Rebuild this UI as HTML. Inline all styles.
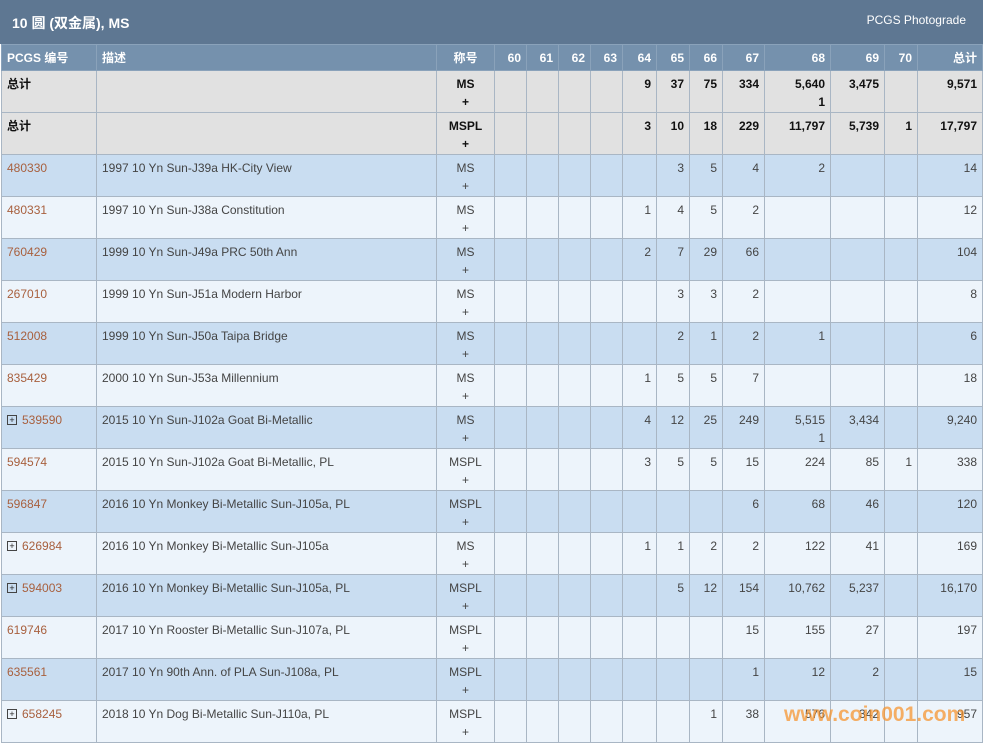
<!DOCTYPE html>
<html><head><meta charset="utf-8"><style>
body{margin:0;width:983px;height:744px;background:#fff;font-family:"Liberation Sans","Noto Sans CJK SC",sans-serif;overflow:hidden;position:relative}
.top{position:absolute;left:0;top:0;width:983px;height:44px;background:#5e7792;color:#fff}
.top .t{position:absolute;left:12px;top:13px;font-size:14px;font-weight:bold}
.top .r{position:absolute;right:17px;top:13px;font-size:12px}
table{position:absolute;left:1px;top:44px;border-collapse:collapse;table-layout:fixed;width:981px;font-size:12px}
td,th{border:1px solid #a9b6c4;padding:0 5px;vertical-align:top;overflow:hidden;white-space:nowrap;box-sizing:border-box}
th{background:#7591ad;color:#fff;height:26px;font-weight:bold;text-align:right;vertical-align:middle;border-color:#8aa2ba}
th.l{text-align:left}
tr.h td{height:42px}
td{padding-top:4px;line-height:18px;text-align:right;color:#444}
td.l{text-align:left}td.c{text-align:center}
tr.g td{background:#e1e1e1;color:#111;font-weight:bold}
tr.b td{background:#c9ddf1}
tr.w td{background:#edf4fb}
a{color:#a8603e;text-decoration:none}
.p{display:inline-block;width:8px;height:8px;border:1px solid #444;font-size:9px;line-height:8px;text-align:center;margin-right:5px;color:#222;vertical-align:1px}
.wm{position:absolute;left:784px;top:703px;font-size:21px;font-weight:bold;color:rgba(245,150,50,0.75);letter-spacing:0}
</style></head><body>
<div class="top"><span class="t">10 圆 (双金属), MS</span><span class="r">PCGS Photograde</span></div>
<table>
<colgroup><col style="width:95px"><col style="width:340px"><col style="width:58px"><col style="width:32px"><col style="width:32px"><col style="width:32px"><col style="width:32px"><col style="width:34px"><col style="width:33px"><col style="width:33px"><col style="width:42px"><col style="width:66px"><col style="width:54px"><col style="width:33px"><col style="width:65px"></colgroup>
<tr><th class="l">PCGS 编号</th><th class="l">描述</th><th style="text-align:center">称号</th><th>60</th><th>61</th><th>62</th><th>63</th><th>64</th><th>65</th><th>66</th><th>67</th><th>68</th><th>69</th><th>70</th><th>总计</th></tr>
<tr class="h g"><td class="l">总计</td><td></td><td class="c">MS<br>+</td><td></td><td></td><td></td><td></td><td>9</td><td>37</td><td>75</td><td>334</td><td>5,640<br>1</td><td>3,475</td><td></td><td>9,571</td></tr>
<tr class="h g"><td class="l">总计</td><td></td><td class="c">MSPL<br>+</td><td></td><td></td><td></td><td></td><td>3</td><td>10</td><td>18</td><td>229</td><td>11,797</td><td>5,739</td><td>1</td><td>17,797</td></tr>
<tr class="h b"><td class="l"><a>480330</a></td><td class="l">1997 10 Yn Sun-J39a HK-City View</td><td class="c">MS<br>+</td><td></td><td></td><td></td><td></td><td></td><td>3</td><td>5</td><td>4</td><td>2</td><td></td><td></td><td>14</td></tr>
<tr class="h w"><td class="l"><a>480331</a></td><td class="l">1997 10 Yn Sun-J38a Constitution</td><td class="c">MS<br>+</td><td></td><td></td><td></td><td></td><td>1</td><td>4</td><td>5</td><td>2</td><td></td><td></td><td></td><td>12</td></tr>
<tr class="h b"><td class="l"><a>760429</a></td><td class="l">1999 10 Yn Sun-J49a PRC 50th Ann</td><td class="c">MS<br>+</td><td></td><td></td><td></td><td></td><td>2</td><td>7</td><td>29</td><td>66</td><td></td><td></td><td></td><td>104</td></tr>
<tr class="h w"><td class="l"><a>267010</a></td><td class="l">1999 10 Yn Sun-J51a Modern Harbor</td><td class="c">MS<br>+</td><td></td><td></td><td></td><td></td><td></td><td>3</td><td>3</td><td>2</td><td></td><td></td><td></td><td>8</td></tr>
<tr class="h b"><td class="l"><a>512008</a></td><td class="l">1999 10 Yn Sun-J50a Taipa Bridge</td><td class="c">MS<br>+</td><td></td><td></td><td></td><td></td><td></td><td>2</td><td>1</td><td>2</td><td>1</td><td></td><td></td><td>6</td></tr>
<tr class="h w"><td class="l"><a>835429</a></td><td class="l">2000 10 Yn Sun-J53a Millennium</td><td class="c">MS<br>+</td><td></td><td></td><td></td><td></td><td>1</td><td>5</td><td>5</td><td>7</td><td></td><td></td><td></td><td>18</td></tr>
<tr class="h b"><td class="l"><span class="p">+</span><a>539590</a></td><td class="l">2015 10 Yn Sun-J102a Goat Bi-Metallic</td><td class="c">MS<br>+</td><td></td><td></td><td></td><td></td><td>4</td><td>12</td><td>25</td><td>249</td><td>5,515<br>1</td><td>3,434</td><td></td><td>9,240</td></tr>
<tr class="h w"><td class="l"><a>594574</a></td><td class="l">2015 10 Yn Sun-J102a Goat Bi-Metallic, PL</td><td class="c">MSPL<br>+</td><td></td><td></td><td></td><td></td><td>3</td><td>5</td><td>5</td><td>15</td><td>224</td><td>85</td><td>1</td><td>338</td></tr>
<tr class="h b"><td class="l"><a>596847</a></td><td class="l">2016 10 Yn Monkey Bi-Metallic Sun-J105a, PL</td><td class="c">MSPL<br>+</td><td></td><td></td><td></td><td></td><td></td><td></td><td></td><td>6</td><td>68</td><td>46</td><td></td><td>120</td></tr>
<tr class="h w"><td class="l"><span class="p">+</span><a>626984</a></td><td class="l">2016 10 Yn Monkey Bi-Metallic Sun-J105a</td><td class="c">MS<br>+</td><td></td><td></td><td></td><td></td><td>1</td><td>1</td><td>2</td><td>2</td><td>122</td><td>41</td><td></td><td>169</td></tr>
<tr class="h b"><td class="l"><span class="p">+</span><a>594003</a></td><td class="l">2016 10 Yn Monkey Bi-Metallic Sun-J105a, PL</td><td class="c">MSPL<br>+</td><td></td><td></td><td></td><td></td><td></td><td>5</td><td>12</td><td>154</td><td>10,762</td><td>5,237</td><td></td><td>16,170</td></tr>
<tr class="h w"><td class="l"><a>619746</a></td><td class="l">2017 10 Yn Rooster Bi-Metallic Sun-J107a, PL</td><td class="c">MSPL<br>+</td><td></td><td></td><td></td><td></td><td></td><td></td><td></td><td>15</td><td>155</td><td>27</td><td></td><td>197</td></tr>
<tr class="h b"><td class="l"><a>635561</a></td><td class="l">2017 10 Yn 90th Ann. of PLA Sun-J108a, PL</td><td class="c">MSPL<br>+</td><td></td><td></td><td></td><td></td><td></td><td></td><td></td><td>1</td><td>12</td><td>2</td><td></td><td>15</td></tr>
<tr class="h w"><td class="l"><span class="p">+</span><a>658245</a></td><td class="l">2018 10 Yn Dog Bi-Metallic Sun-J110a, PL</td><td class="c">MSPL<br>+</td><td></td><td></td><td></td><td></td><td></td><td></td><td>1</td><td>38</td><td>576</td><td>342</td><td></td><td>957</td></tr>
</table>
<div class="wm">www.coin001.com</div>
</body></html>
